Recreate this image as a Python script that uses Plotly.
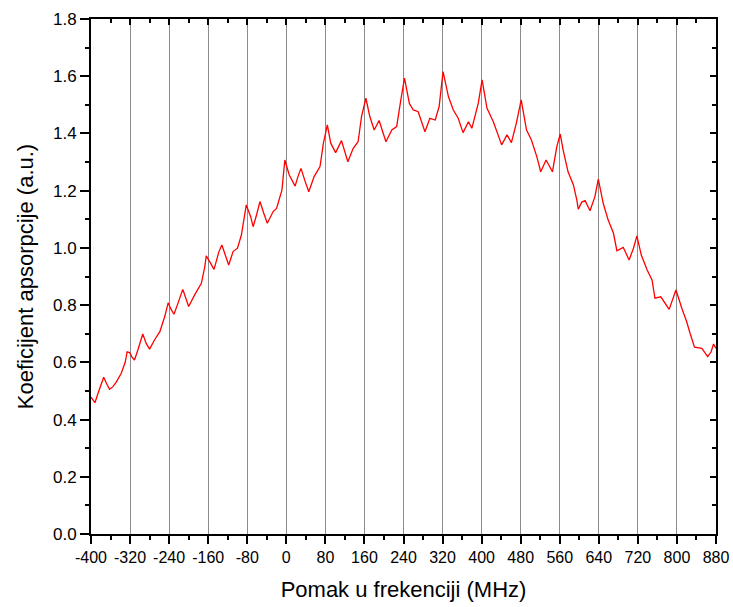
import plotly.graph_objects as go

# frequency shift (MHz) and absorption coefficient
freq = [-400, -392, -384, -374, -368, -362, -355, -348, -338, -330, -326, -321, -316, -311,
        -304, -294, -287, -280, -270, -259, -249, -242, -236, -230, -222, -212, -206, -200,
        -188, -174, -167, -164, -157, -148, -138, -132, -125, -118, -109, -100, -92, -82,
        -73, -68, -61, -54, -46, -39, -27, -20, -9, -3, 6, 18, 24, 30, 38, 46, 57, 69, 76,
        84, 91, 101, 113, 126, 137, 147, 154, 163, 171, 180, 190, 204, 216, 226, 234, 242,
        252, 260, 270, 284, 294, 305, 313, 321, 332, 342, 352, 362, 373, 380, 393, 401, 411,
        424, 441, 452, 461, 471, 481, 492, 502, 513, 521, 532, 545, 554, 561, 567, 577, 588,
        595, 598, 605, 612, 622, 632, 639, 649, 659, 670, 677, 690, 702, 711, 718, 727, 739,
        749, 755, 767, 784, 793, 798, 810, 820, 827, 836, 851, 863, 870, 875, 880]
absorb = [0.478, 0.459, 0.50, 0.548, 0.525, 0.506, 0.515, 0.532, 0.562, 0.60, 0.637, 0.634,
          0.618, 0.608, 0.643, 0.699, 0.666, 0.646, 0.678, 0.707, 0.760, 0.808, 0.785, 0.768,
          0.806, 0.855, 0.825, 0.795, 0.835, 0.876, 0.934, 0.972, 0.952, 0.925, 0.987, 1.010,
          0.975, 0.940, 0.987, 0.999, 1.045, 1.150, 1.109, 1.074, 1.115, 1.162, 1.120, 1.086,
          1.127, 1.138, 1.202, 1.307, 1.255, 1.216, 1.250, 1.278, 1.235, 1.196, 1.249, 1.284,
          1.366, 1.430, 1.366, 1.333, 1.375, 1.301, 1.348, 1.371, 1.459, 1.523, 1.459, 1.412,
          1.445, 1.371, 1.412, 1.424, 1.511, 1.593, 1.505, 1.482, 1.476, 1.406, 1.453, 1.447,
          1.494, 1.616, 1.529, 1.482, 1.453, 1.403, 1.441, 1.418, 1.505, 1.587, 1.488, 1.441,
          1.360, 1.395, 1.368, 1.435, 1.517, 1.412, 1.377, 1.319, 1.266, 1.307, 1.266, 1.354,
          1.398, 1.342, 1.266, 1.220, 1.167, 1.135, 1.160, 1.165, 1.130, 1.179, 1.240, 1.156,
          1.098, 1.051, 0.990, 1.002, 0.958, 0.999, 1.042, 0.975, 0.923, 0.888, 0.824, 0.829,
          0.785, 0.829, 0.853, 0.789, 0.742, 0.701, 0.653, 0.649, 0.620, 0.637, 0.664, 0.649]

x_ticks = list(range(-400, 881, 80))
y_ticks = [round(0.2 * i, 1) for i in range(10)]

font = "Liberation Sans, Arial, sans-serif"

fig = go.Figure()
fig.add_trace(go.Scatter(x=freq, y=absorb, mode="lines",
                         line=dict(color="#ff0000", width=1.3),
                         showlegend=False))
# empty trace so the top/right frame axes get drawn
fig.add_trace(go.Scatter(x=[], y=[], xaxis="x2", yaxis="y2", showlegend=False))

fig.update_layout(
    width=733, height=607,
    margin=dict(l=91, r=17, t=19, b=73),
    plot_bgcolor="white", paper_bgcolor="white",
    font=dict(family=font, size=17, color="black"),
    xaxis=dict(
        range=[-400, 880], tickvals=x_ticks, ticktext=[str(v) for v in x_ticks],
        ticks="outside", ticklen=8, tickwidth=2, tickcolor="black",
        minor=dict(dtick=40, tick0=0, ticks="outside", ticklen=4, tickwidth=2,
                   tickcolor="black", showgrid=False),
        showline=True, linewidth=2, linecolor="black",
        showgrid=True, gridcolor="#8c8c8c", gridwidth=1,
        zeroline=False, automargin=False, tickfont=dict(size=16),
        title=dict(text="Pomak u frekenciji (MHz)", font=dict(size=22), standoff=16),
    ),
    yaxis=dict(
        range=[0, 1.8], tickvals=y_ticks, ticktext=[f"{v:.1f}" for v in y_ticks],
        ticks="outside", ticklen=9, tickwidth=2, tickcolor="black",
        minor=dict(dtick=0.1, ticks="outside", ticklen=4, tickwidth=2,
                   tickcolor="black", showgrid=False),
        showline=True, linewidth=2, linecolor="black",
        showgrid=False, zeroline=False, automargin=False, tickfont=dict(size=17),
        title=dict(text="Koeficijent apsorpcije (a.u.)", font=dict(size=22), standoff=13),
    ),
    xaxis2=dict(
        overlaying="x", side="top", anchor="y", range=[-400, 880], tickvals=x_ticks,
        ticks="inside", ticklen=6, tickwidth=2, tickcolor="black", showticklabels=False,
        minor=dict(dtick=40, tick0=0, ticks="inside", ticklen=4, tickwidth=2,
                   tickcolor="black", showgrid=False),
        showline=True, linewidth=2, linecolor="black", showgrid=False, zeroline=False,
        automargin=False,
    ),
    yaxis2=dict(
        overlaying="y", side="right", anchor="x", range=[0, 1.8], tickvals=y_ticks,
        ticks="inside", ticklen=6, tickwidth=2, tickcolor="black", showticklabels=False,
        minor=dict(dtick=0.1, ticks="inside", ticklen=4, tickwidth=2,
                   tickcolor="black", showgrid=False),
        showline=True, linewidth=2, linecolor="black", showgrid=False, zeroline=False,
        automargin=False,
    ),
)

# drop the browser's default body margin so the figure fills the window exactly
fig.write_html("out.html", config={"displayModeBar": False},
               post_script="document.body.style.margin='0px';")
